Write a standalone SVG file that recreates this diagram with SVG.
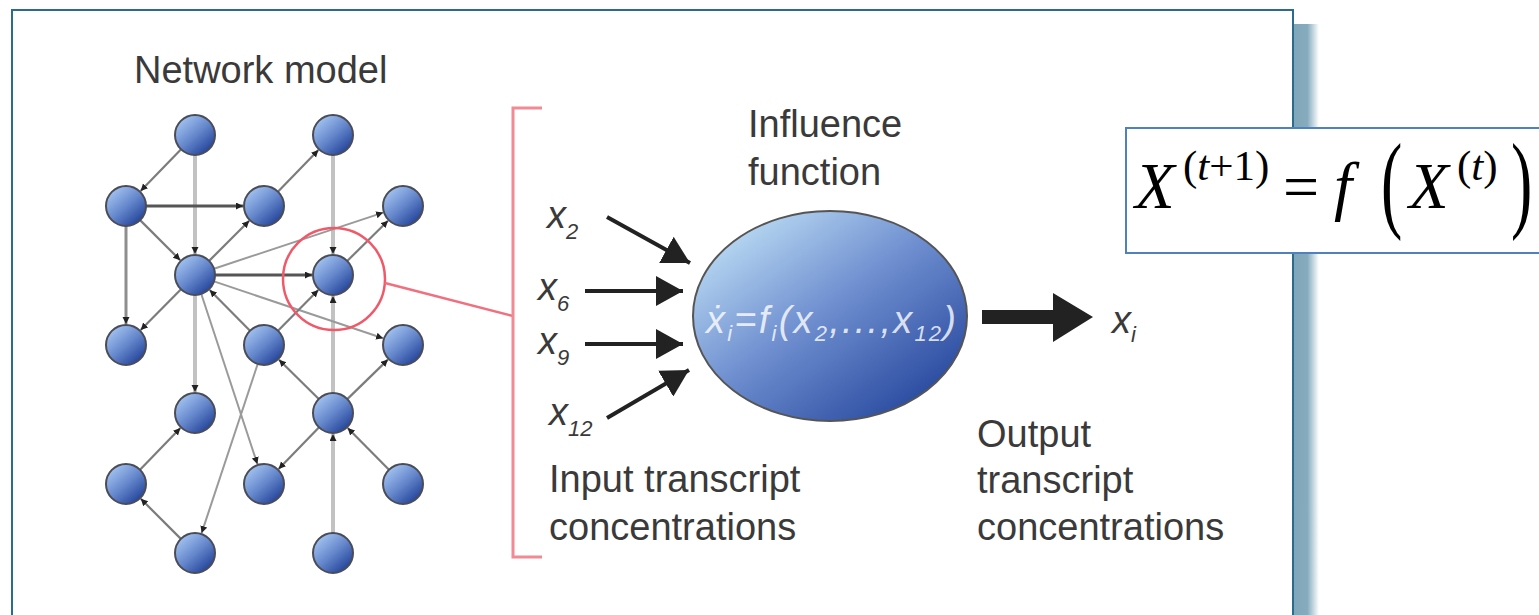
<svg xmlns="http://www.w3.org/2000/svg" width="1539" height="615" viewBox="0 0 1539 615">
<defs>
<linearGradient id="gNode" x1="0.15" y1="0.1" x2="0.85" y2="0.9">
<stop offset="0" stop-color="#a3c3f0"/>
<stop offset="0.5" stop-color="#6688cc"/>
<stop offset="1" stop-color="#24439a"/>
</linearGradient>
<linearGradient id="gEll" x1="0.1" y1="0.1" x2="0.9" y2="0.95">
<stop offset="0" stop-color="#bcdcf4"/>
<stop offset="0.45" stop-color="#6f8fd0"/>
<stop offset="1" stop-color="#22429a"/>
</linearGradient>
<linearGradient id="gShadow" x1="0" y1="0" x2="1" y2="0">
<stop offset="0" stop-color="#7fa6b9"/>
<stop offset="0.55" stop-color="#86abbd"/>
<stop offset="1" stop-color="#ffffff"/>
</linearGradient>
<marker id="mSmall" markerUnits="userSpaceOnUse" markerWidth="8" markerHeight="8" refX="7" refY="3.5" orient="auto">
<path d="M0,0 L7,3.5 L0,7 z" fill="#222"/>
</marker>
<marker id="mIn" markerUnits="userSpaceOnUse" markerWidth="30" markerHeight="30" refX="27" refY="15" orient="auto">
<path d="M0,0 L27,15 L0,30 z" fill="#222"/>
</marker>
</defs>
<style>
.lbl{font-family:"Liberation Sans",Arial,sans-serif;font-size:38px;fill:#3a3a3a}
.var{font-family:"Liberation Sans",Arial,sans-serif;font-style:italic;font-size:38px;fill:#3a3a3a}
.sub{font-size:22px}
.node circle{fill:url(#gNode);stroke:#4a4c58;stroke-width:2}
.light{stroke:#c2c2c2;stroke-width:4;fill:none;marker-end:url(#mSmall)}
.dark{stroke:#555;stroke-width:3;fill:none;marker-end:url(#mSmall)}
.mid{stroke:#7c7c7c;stroke-width:2.2;fill:none;marker-end:url(#mSmall)}
.pale{stroke:#9a9a9a;stroke-width:2;fill:none;marker-end:url(#mSmall)}
.inarr{stroke:#222;stroke-width:4;fill:none;marker-end:url(#mIn)}
.serif{font-family:"Liberation Serif","Times New Roman",serif;fill:#000}
</style>

<!-- frame and shadow -->
<rect x="1293" y="24" width="26" height="600" fill="url(#gShadow)"/>
<rect x="12" y="10" width="1281" height="620" fill="#fff" stroke="#2b6b8c" stroke-width="2"/>

<text class="lbl" x="134" y="83">Network model</text>

<!-- connectors -->
<g id="connectors">
<line class="light" x1="195" y1="155" x2="195" y2="254"/>
<line class="light" x1="333" y1="155" x2="333" y2="254"/>
<line class="light" x1="333" y1="393" x2="333" y2="296"/>
<line class="light" x1="195" y1="295" x2="195" y2="392"/>
<line class="light" x1="333" y1="533" x2="333" y2="434"/>
<line class="mid" x1="126" y1="226" x2="126" y2="324" style="stroke:#8e8e8e;stroke-width:3"/>
<line class="dark" x1="146" y1="206" x2="243" y2="206"/>
<line class="dark" x1="215" y1="275" x2="312" y2="275"/>
<line class="mid" x1="181.1" y1="149.3" x2="140.6" y2="190.9"/>
<line class="mid" x1="277.9" y1="191.7" x2="318.4" y2="150.1"/>
<line class="mid" x1="140.1" y1="220.1" x2="180.2" y2="260.2"/>
<line class="mid" x1="209.1" y1="260.9" x2="249.2" y2="220.8"/>
<line class="pale" x1="214" y1="268.7" x2="383.1" y2="212.6"/>
<line class="mid" x1="347.2" y1="261" x2="388" y2="220.7"/>
<line class="mid" x1="181" y1="289.2" x2="140.7" y2="330"/>
<line class="mid" x1="250" y1="330.8" x2="209.7" y2="290"/>
<line class="pale" x1="214" y1="281.4" x2="383.1" y2="338.3"/>
<line class="mid" x1="278" y1="330.8" x2="318.3" y2="290"/>
<line class="pale" x1="201.3" y1="294" x2="257.4" y2="464.1"/>
<line class="pale" x1="257.7" y1="364" x2="201.6" y2="533.1"/>
<line class="mid" x1="140" y1="469.7" x2="180.4" y2="428.1"/>
<line class="mid" x1="180.9" y1="538.9" x2="140.8" y2="498.8"/>
<line class="mid" x1="318.8" y1="399" x2="279" y2="359.7"/>
<line class="mid" x1="347.3" y1="399.1" x2="387.9" y2="359.6"/>
<line class="mid" x1="319.1" y1="427.3" x2="278.6" y2="468.9"/>
<line class="mid" x1="389" y1="469.8" x2="347.7" y2="428"/>
<!-- input arrows -->
<line class="inarr" x1="607" y1="217" x2="690" y2="263"/>
<line class="inarr" x1="585" y1="291" x2="683" y2="291"/>
<line class="inarr" x1="585" y1="344" x2="683" y2="344"/>
<line class="inarr" x1="607" y1="418" x2="689" y2="370"/>
<!-- output arrow -->
<polygon points="982,310 1053,310 1053,293 1093,317 1053,342 1053,324 982,324" fill="#222"/>
<!-- zoom highlight -->
<circle cx="334" cy="279" r="51" fill="none" stroke="#ef5a6a" stroke-width="2.5"/>
<line x1="385" y1="283" x2="513" y2="316" stroke="#f07080" stroke-width="2.5"/>
<path d="M542,108 H513 V557 H542" fill="none" stroke="#f08a94" stroke-width="3"/>
</g>

<!-- network nodes -->
<g id="nA" class="node"><circle cx="195" cy="135" r="20"/></g>
<g id="nB" class="node"><circle cx="333" cy="135" r="20"/></g>
<g id="nC" class="node"><circle cx="126" cy="206" r="20"/></g>
<g id="nD" class="node"><circle cx="264" cy="206" r="20"/></g>
<g id="nE" class="node"><circle cx="403" cy="206" r="20"/></g>
<g id="nF" class="node"><circle cx="195" cy="275" r="20"/></g>
<g id="nG" class="node"><circle cx="333" cy="275" r="20"/></g>
<g id="nH" class="node"><circle cx="126" cy="345" r="20"/></g>
<g id="nI" class="node"><circle cx="264" cy="345" r="20"/></g>
<g id="nJ" class="node"><circle cx="403" cy="345" r="20"/></g>
<g id="nK" class="node"><circle cx="195" cy="413" r="20"/></g>
<g id="nL" class="node"><circle cx="333" cy="413" r="20"/></g>
<g id="nM" class="node"><circle cx="126" cy="484" r="20"/></g>
<g id="nN" class="node"><circle cx="264" cy="484" r="20"/></g>
<g id="nO" class="node"><circle cx="403" cy="484" r="20"/></g>
<g id="nP" class="node"><circle cx="195" cy="553" r="20"/></g>
<g id="nQ" class="node"><circle cx="333" cy="553" r="20"/></g>

<!-- influence function -->
<g id="influence">
<text class="lbl" x="748" y="137">Influence</text>
<text class="lbl" x="748" y="185">function</text>
<ellipse cx="830" cy="316" rx="137" ry="105" fill="url(#gEll)" stroke="#555" stroke-width="2"/>
<text x="706" y="333" textLength="250" lengthAdjust="spacing" font-family="Liberation Sans,Arial,sans-serif" font-style="italic" font-size="38" fill="#fff" fill-opacity="0.8">ẋ<tspan font-size="22" dy="8">i</tspan><tspan dy="-8">=f</tspan><tspan font-size="22" dy="8">i</tspan><tspan dy="-8">(x</tspan><tspan font-size="22" dy="8">2</tspan><tspan dy="-8">,...,x</tspan><tspan font-size="22" dy="8">12</tspan><tspan dy="-8">)</tspan></text>
</g>

<!-- inputs -->
<g id="inputs">
<text class="var" x="547" y="228">x<tspan class="sub" dy="11">2</tspan></text>
<text class="var" x="538" y="300">x<tspan class="sub" dy="11">6</tspan></text>
<text class="var" x="538" y="354">x<tspan class="sub" dy="11">9</tspan></text>
<text class="var" x="549" y="425">x<tspan class="sub" dy="11">12</tspan></text>
<text class="lbl" x="549" y="492">Input transcript</text>
<text class="lbl" x="549" y="540">concentrations</text>
</g>

<!-- output -->
<g id="output">
<text class="var" x="1112" y="333">x<tspan class="sub" dy="9">i</tspan></text>
<text class="lbl" x="977" y="447">Output</text>
<text class="lbl" x="977" y="493">transcript</text>
<text class="lbl" x="977" y="540">concentrations</text>
</g>

<!-- formula box -->
<g id="formula">
<rect x="1126" y="128" width="420" height="125" fill="#fff" stroke="#4f81bd" stroke-width="2"/>
<text class="serif" x="1135" y="208" font-size="65" font-style="italic">X</text>
<text class="serif" x="1183" y="180" font-size="43">(<tspan font-style="italic">t</tspan>+1)</text>
<text class="serif" x="1283" y="208" font-size="64">=</text>
<text class="serif" x="1334" y="208" font-size="65" font-style="italic">f</text>
<text class="serif" transform="translate(1381,218) scale(1,1.7)" font-size="64">(</text>
<text class="serif" x="1409" y="208" font-size="65" font-style="italic">X</text>
<text class="serif" x="1457" y="180" font-size="43">(<tspan font-style="italic">t</tspan>)</text>
<text class="serif" transform="translate(1511,218) scale(1,1.7)" font-size="64">)</text>
</g>
</svg>
